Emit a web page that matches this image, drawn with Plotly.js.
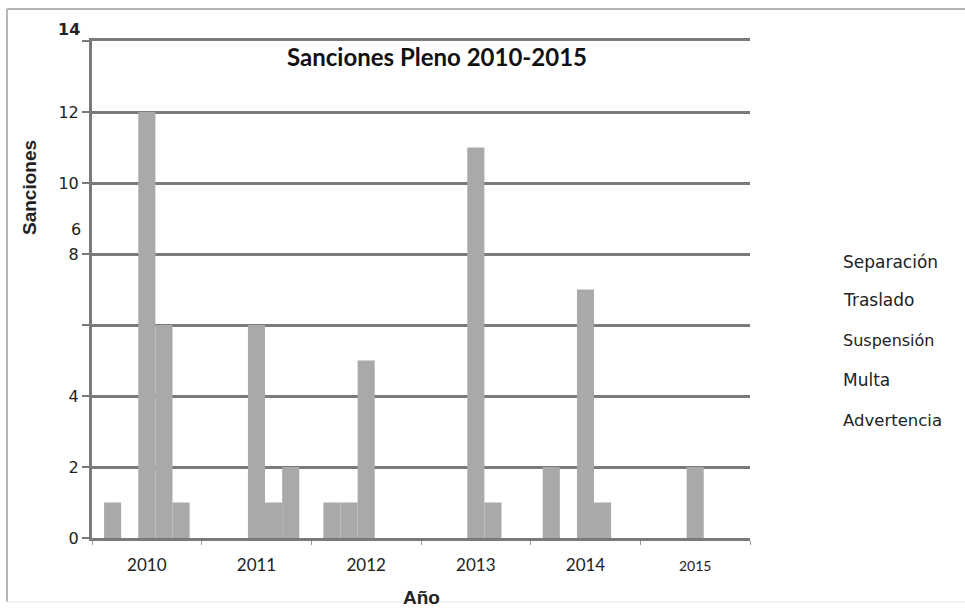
<!DOCTYPE html>
<html>
<head>
<meta charset="utf-8">
<script src="https://cdn.plot.ly/plotly-3.0.1.min.js"></script>
<style>html,body{margin:0;padding:0;background:#fff;}#chart{width:965px;height:609px;}</style>
</head>
<body>
<div id="chart"></div>
<script>
const years = ['2010', '2011', '2012', '2013', '2014', '2015'];
const seriesNames = ['Separación', 'Traslado', 'Suspensión', 'Multa', 'Advertencia'];
const separacion = [1, 0, 1, 0, 2, 0];
const traslado = [0, 0, 1, 0, 0, 0];
const suspension = [12, 6, 5, 11, 7, 2];
const multa = [6, 1, 0, 1, 1, 0];
const advertencia = [1, 2, 0, 0, 0, 0];
const yTickVals = [0, 2, 4, 6, 8, 10, 12, 14];
const yTickText = ['0', '2', '4', '', '8', '10', '12', ''];

const seriesValues = [separacion, traslado, suspension, multa, advertencia];
const traces = seriesValues.map((vals, i) => ({
  type: 'bar',
  name: seriesNames[i],
  x: years,
  y: vals,
  marker: {color: '#a9a9a9', line: {width: 0}},
  hoverinfo: 'name+y'
}));

const px = v => (v - 92) / 658;
const py = v => (538 - v) / 497;

const legendY = [262, 300, 340, 380, 420];
const legendSizes = [17, 17, 16, 17, 16.5];
const annotations = seriesNames.map((n, i) => ({
  text: n, xref: 'paper', yref: 'paper',
  x: px(841), y: py(legendY[i]),
  xanchor: 'left', yanchor: 'middle', showarrow: false,
  font: {family: 'DejaVu Sans, sans-serif', size: legendSizes[i], color: '#222'}
}));
annotations.push(
  {text: '<b>Sanciones Pleno 2010-2015</b>', xref: 'paper', yref: 'paper',
   x: px(437), y: py(57), xanchor: 'center', yanchor: 'middle',
   showarrow: false, font: {family: 'Lato, sans-serif', size: 24, color: '#111'}},
  {text: '<b>Sanciones</b>', xref: 'paper', yref: 'paper',
   x: px(29), y: py(188), xanchor: 'center', yanchor: 'middle',
   textangle: -90, showarrow: false,
   font: {family: 'Liberation Sans, Arial, sans-serif', size: 19, color: '#222'}},
  {text: '<b>Año</b>', xref: 'paper', yref: 'paper',
   x: px(421), y: py(597), xanchor: 'center', yanchor: 'middle',
   showarrow: false, font: {family: 'Liberation Sans, Arial, sans-serif', size: 19, color: '#222'}},
  {text: '6', xref: 'paper', yref: 'paper', x: px(83), y: py(229), xanchor: 'right', yanchor: 'middle',
   showarrow: false, font: {family: 'DejaVu Sans, sans-serif', size: 16, color: '#222'}},
  {text: '<b>14</b>', xref: 'paper', yref: 'paper', x: px(82), y: py(30), xanchor: 'right', yanchor: 'middle',
   showarrow: false, font: {family: 'DejaVu Sans, sans-serif', size: 16, color: '#222'}}
);

const xTickText = years.map(y => y === '2015' ? '<span style="font-size:14px">' + y + '</span>' : y);

const layout = {
  width: 965, height: 609,
  margin: {l: 92, r: 215, t: 41, b: 71, pad: 0},
  paper_bgcolor: '#ffffff', plot_bgcolor: '#ffffff',
  barmode: 'group', bargap: 0.22, bargroupgap: 0,
  showlegend: false,
  xaxis: {
    type: 'category',
    tickvals: years, ticktext: xTickText,
    showgrid: false,
    showline: true, linecolor: '#7a7a7a', linewidth: 3, mirror: true,
    ticks: 'outside', tickson: 'boundaries', ticklen: 4, tickcolor: '#9a9a9a', tickwidth: 1,
    ticklabelstandoff: 10,
    tickfont: {family: 'Lato, sans-serif', size: 17, color: '#222'},
    zeroline: false, fixedrange: true
  },
  yaxis: {
    range: [0, 14],
    tickvals: yTickVals, ticktext: yTickText,
    showgrid: true, gridcolor: '#7a7a7a', gridwidth: 3,
    showline: true, linecolor: '#7a7a7a', linewidth: 3,
    ticks: 'outside', ticklen: 7, tickcolor: '#7a7a7a', tickwidth: 2,
    tickfont: {family: 'DejaVu Sans, sans-serif', size: 16, color: '#222'},
    zeroline: false, fixedrange: true
  },
  annotations: annotations,
  shapes: [
    {type: 'line', xref: 'paper', yref: 'paper', x0: px(7), x1: px(965),
     y0: py(9), y1: py(9), line: {color: '#b5b5b5', width: 2}},
    {type: 'line', xref: 'paper', yref: 'paper', x0: px(7), x1: px(7),
     y0: py(9), y1: py(602), line: {color: '#b5b5b5', width: 2}},
    {type: 'line', xref: 'paper', yref: 'paper', x0: px(7), x1: px(965),
     y0: py(602), y1: py(602), line: {color: '#f2f2f2', width: 2}}
  ]
};

Plotly.newPlot('chart', traces, layout, {displayModeBar: false, staticPlot: true});
</script>
</body>
</html>
